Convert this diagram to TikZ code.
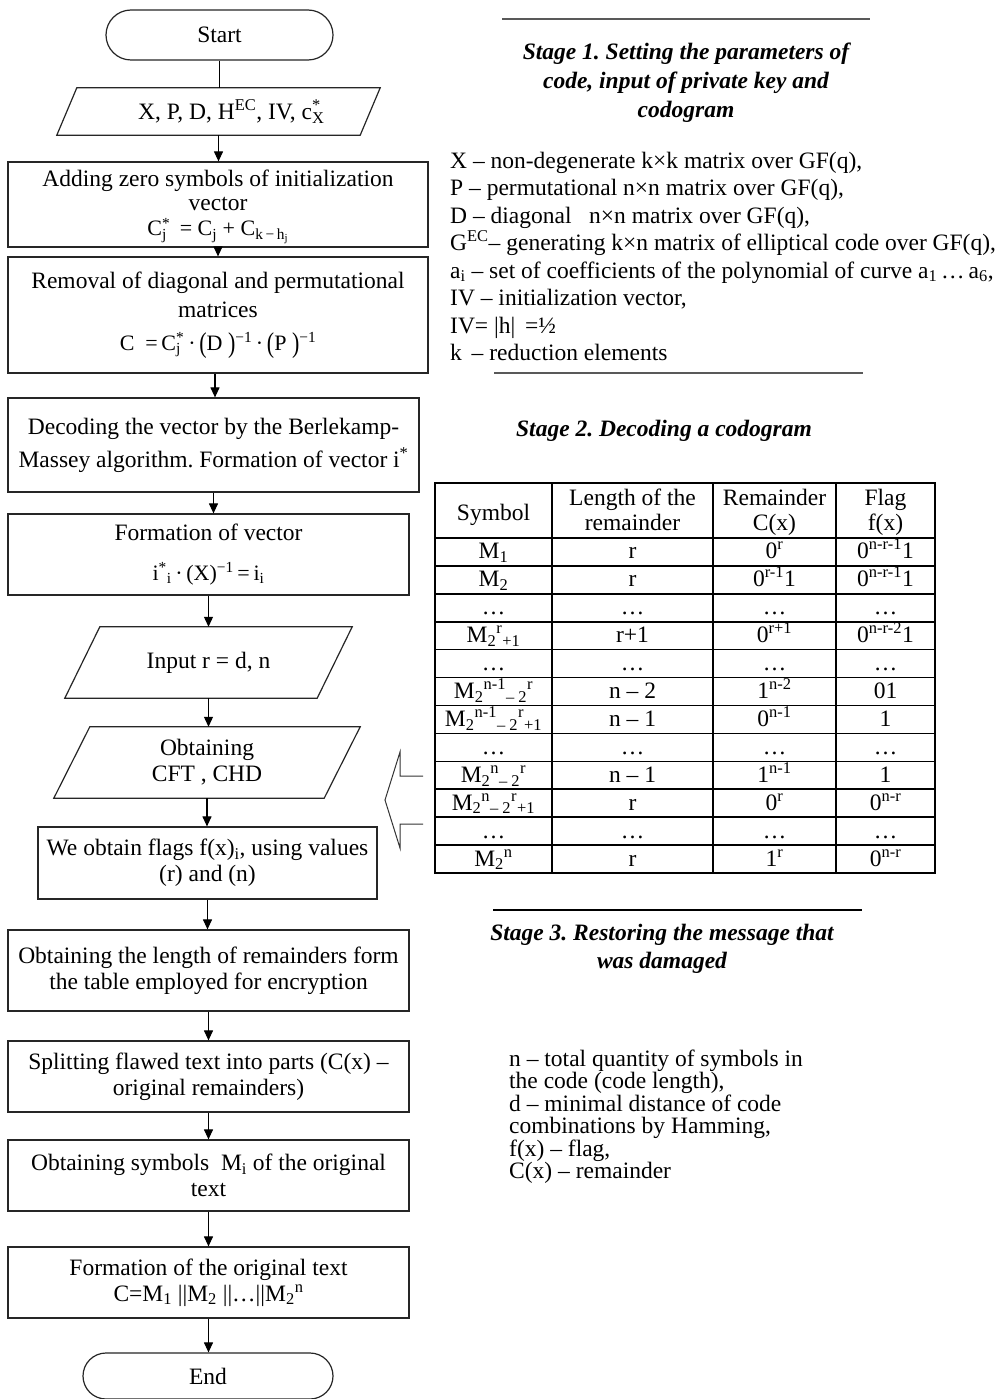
\documentclass[tikz,border=0pt]{standalone}
\usepackage{fontspec}
\usepackage{graphicx}
\setmainfont{Liberation Serif}
\usetikzlibrary{arrows.meta}

\newcommand\fs{\fontsize{23.5pt}{26pt}\selectfont\frenchspacing}
\newcommand\fsm{\fontsize{22pt}{24pt}\selectfont}
\newcommand\sub[1]{\textsubscript{#1}}
\newcommand\sups[1]{\textsuperscript{#1}}
\newcommand\subsup[2]{\rlap{\textsubscript{#1}}\textsuperscript{#2}}
\newcommand\tallp[1]{\raisebox{-2pt}{\scalebox{1}[1.3]{#1}}}
% parallelogram outline around an invisible node
\newcommand\parashape[2]{\draw[shapeline] ([xshift=#2]#1.north west) -- (#1.north east) -- ([xshift=-#2]#1.south east) -- (#1.south west) -- cycle;}
% one table cell, baseline 7pt above the bottom of its row
\newcommand\cellt[4]{\node[anchor=base] (#1) at (#2,{538+27.92*#3-7}) {#4};}

\begin{document}
\begin{tikzpicture}[x=1pt,y=-1pt,
  every node/.style={font=\fs, inner sep=0pt},
  shapeline/.style={draw=black!85, line width=1.2pt},
  box/.style={shapeline, align=center},
  term/.style={shapeline, align=center},
  para/.style={align=center},
  arr/.style={line width=1.1pt, -{Triangle[length=10pt,width=9pt]}},
  plain/.style={line width=1.1pt},
  tbl/.style={line width=1.6pt},
  rule/.style={line width=1.8pt, draw=black!65},
  ttl/.style={font=\fs\bfseries\itshape, anchor=base},
  leg/.style={anchor=base west}]

\useasboundingbox[fill=white] (0,0) rectangle (1000,1399);

% ---------------- flowchart ----------------
\node[term, rounded corners=25pt, minimum width=227pt, minimum height=50pt] (start) at (219.5,35) {Start};

\node[para, minimum width=323pt, minimum height=47pt] (p1) at (218.5,111.5)
  {\hspace*{26pt}X, P, D, H\sups{EC}, IV, c\subsup{X}{*}\hspace{4pt}};
\parashape{p1}{20pt}

\node[box, minimum width=420pt, minimum height=85pt] (add) at (218,204.5)
  {\rule{0pt}{22pt}Adding zero symbols of initialization\\[-2pt]vector\\[-1pt]
   {\fsm C\subsup{j}{*}\hspace{4pt} = C\sub{j} + C\sub{k\,−\,h\textsubscript{j}}}};

\node[box, minimum width=420pt, minimum height=116pt] (rem) at (218,315)
  {Removal of diagonal and permutational\\[3pt]matrices\\[7pt]
   {\fsm C\ \ =\,C\subsup{j}{*}\hspace{4pt}·\,\tallp{(}D\ \tallp{)}\sups{−1}\,·\,\tallp{(}P\ \tallp{)}\sups{−1}}};

\node[box, minimum width=411pt, minimum height=94pt] (dec) at (213.5,445)
  {Decoding the vector by the Berlekamp-\\[7pt]Massey algorithm. Formation of vector i\sups{*}};

\node[box, minimum width=401pt, minimum height=81pt] (form) at (208.5,554.5)
  {Formation of vector\\[14pt]
   {\fsm i\sups{*}\sub{i}\,·\,(X)\sups{−1}\,=\,i\sub{i}}};

\node[para, minimum width=287pt, minimum height=71pt] (inp) at (208.5,662.5) {Input r = d, n};
\parashape{inp}{35pt}

\node[para, minimum width=306pt, minimum height=71pt] (obt) at (207,762.5) {Obtaining\\CFT , CHD};
\parashape{obt}{36pt}

\node[box, minimum width=339pt, minimum height=72pt] (flags) at (207.5,863)
  {We obtain flags f(x)\sub{i}, using values\\(r) and (n)};

\node[box, minimum width=401pt, minimum height=81pt] (len) at (208.5,970.5)
  {Obtaining the length of remainders form\\the table employed for encryption};

\node[box, minimum width=401pt, minimum height=71pt] (split) at (208.5,1076.5)
  {Splitting flawed text into parts (C(x) –\\original remainders)};

\node[box, minimum width=401pt, minimum height=71pt] (sym) at (208.5,1175.5)
  {Obtaining symbols \ M\sub{i} of the original\\text};

\node[box, minimum width=401pt, minimum height=71pt] (orig) at (208.5,1282.5)
  {Formation of the original text\\C=M\sub{1} ||M\sub{2} ||…||M\sub{2}\sups{n}};

\node[term, rounded corners=23pt, minimum width=250pt, minimum height=46pt] (end) at (208,1376) {End};

% connectors
\draw[plain] (start.south) -- (start.south |- p1.north);
\draw[arr] (p1.south) -- (p1.south |- add.north);
\draw[arr] (add.south) -- (add.south |- rem.north);
\draw[arr] ([xshift=-3pt]rem.south) -- ([xshift=-3pt]rem.south |- dec.north);
\draw[arr] (dec.south) -- (dec.south |- form.north);
\draw[arr] (form.south) -- (form.south |- inp.north);
\draw[arr] (inp.south) -- (inp.south |- obt.north);
\draw[arr] (obt.south) -- (obt.south |- flags.north);
\draw[arr] (flags.south) -- (flags.south |- len.north);
\draw[arr] (len.south) -- (len.south |- split.north);
\draw[arr] (split.south) -- (split.south |- sym.north);
\draw[arr] (sym.south) -- (sym.south |- orig.north);
\draw[arr] (orig.south) -- (orig.south |- end.north);

% ---------------- stage 1 ----------------
\draw[rule] (502,19) -- (870,19);
\node[ttl] (s1a) at (686,60) {Stage 1. Setting the parameters of};
\node[ttl] (s1b) at (686,89) {code, input of private key and};
\node[ttl] (s1c) at (686,118) {codogram};

\node[leg] (l1) at (450,168.0) {X – non-degenerate k×k matrix over GF(q),};
\node[leg] (l2) at (450,195.5) {P – permutational n×n matrix over GF(q),};
\node[leg] (l3) at (450,223.0) {D – diagonal \ \ n×n matrix over GF(q),};
\node[leg] (l4) at (450,250.5) {G\sups{EC}– generating k×n matrix of elliptical code over GF(q),};
\node[leg] (l5) at (450,278.0) {a\sub{i} – set of coefficients of the polynomial of curve a\sub{1}\,…\,a\sub{6},};
\node[leg] (l6) at (450,305.5) {IV – initialization vector,};
\node[leg] (l7) at (450,333.0) {IV= |h| \,=½};
\node[leg] (l8) at (450,360.5) {k \,– reduction elements};
\draw[rule] (494,373) -- (863,373);

% ---------------- stage 2 ----------------
\node[ttl] (s2) at (664,436) {Stage 2. Decoding a codogram};

\draw[tbl] (435,483) rectangle (935,873);
\foreach \cx in {552,713,836} \draw[tbl] (\cx,483) -- (\cx,873);
\draw[tbl] (435,538) -- (935,538);
\foreach \k in {1,...,11} \draw[tbl] (435,{538+27.92*\k}) -- (935,{538+27.92*\k});

\node[anchor=base] (h1) at (493.5,520) {Symbol};
\node[anchor=base] (h2a) at (632.5,505) {Length of the};
\node[anchor=base] (h2b) at (632.5,530) {remainder};
\node[anchor=base] (h3a) at (774.5,505) {Remainder};
\node[anchor=base] (h3b) at (774.5,530) {C(x)};
\node[anchor=base] (h4a) at (885.5,505) {Flag};
\node[anchor=base] (h4b) at (885.5,530) {f(x)};

\cellt{a1}{493.5}{1}{M\sub{1}}
\cellt{b1}{632.5}{1}{r}
\cellt{c1}{774.5}{1}{0\sups{r}}
\cellt{d1}{885.5}{1}{0\sups{n-r-1}1}

\cellt{a2}{493.5}{2}{M\sub{2}}
\cellt{b2}{632.5}{2}{r}
\cellt{c2}{774.5}{2}{0\sups{r-1}1}
\cellt{d2}{885.5}{2}{0\sups{n-r-1}1}

\cellt{a3}{493.5}{3}{…}
\cellt{b3}{632.5}{3}{…}
\cellt{c3}{774.5}{3}{…}
\cellt{d3}{885.5}{3}{…}

\cellt{a4}{493.5}{4}{M\sub{2}\sups{r}\sub{+1}}
\cellt{b4}{632.5}{4}{r+1}
\cellt{c4}{774.5}{4}{0\sups{r+1}}
\cellt{d4}{885.5}{4}{0\sups{n-r-2}1}

\cellt{a5}{493.5}{5}{…}
\cellt{b5}{632.5}{5}{…}
\cellt{c5}{774.5}{5}{…}
\cellt{d5}{885.5}{5}{…}

\cellt{a6}{493.5}{6}{M\sub{2}\sups{n-1}\sub{– 2}\sups{r}}
\cellt{b6}{632.5}{6}{n – 2}
\cellt{c6}{774.5}{6}{1\sups{n-2}}
\cellt{d6}{885.5}{6}{01}

\cellt{a7}{493.5}{7}{M\sub{2}\sups{n-1}\sub{– 2}\sups{r}\sub{+1}}
\cellt{b7}{632.5}{7}{n – 1}
\cellt{c7}{774.5}{7}{0\sups{n-1}}
\cellt{d7}{885.5}{7}{1}

\cellt{a8}{493.5}{8}{…}
\cellt{b8}{632.5}{8}{…}
\cellt{c8}{774.5}{8}{…}
\cellt{d8}{885.5}{8}{…}

\cellt{a9}{493.5}{9}{M\sub{2}\sups{n}\sub{– 2}\sups{r}}
\cellt{b9}{632.5}{9}{n – 1}
\cellt{c9}{774.5}{9}{1\sups{n-1}}
\cellt{d9}{885.5}{9}{1}

\cellt{a10}{493.5}{10}{M\sub{2}\sups{n}\sub{– 2}\sups{r}\sub{+1}}
\cellt{b10}{632.5}{10}{r}
\cellt{c10}{774.5}{10}{0\sups{r}}
\cellt{d10}{885.5}{10}{0\sups{n-r}}

\cellt{a11}{493.5}{11}{…}
\cellt{b11}{632.5}{11}{…}
\cellt{c11}{774.5}{11}{…}
\cellt{d11}{885.5}{11}{…}

\cellt{a12}{493.5}{12}{M\sub{2}\sups{n}}
\cellt{b12}{632.5}{12}{r}
\cellt{c12}{774.5}{12}{1\sups{r}}
\cellt{d12}{885.5}{12}{0\sups{n-r}}

% hollow arrow pointing from the table back to the flowchart
\draw[line width=1pt, draw=black!80] (423,776) -- (400,776) -- (400,752) -- (385,800)
  -- (400,848) -- (400,824) -- (423,824);

% ---------------- stage 3 ----------------
\draw[line width=1.5pt] (493,910) -- (862,910);
\node[ttl] (s3a) at (662,940) {Stage 3. Restoring the message that};
\node[ttl] (s3b) at (662,968) {was damaged};

\node[leg] (m1) at (509,1066) {n – total quantity of symbols in};
\node[leg] (m2) at (509,1088.5) {the code (code length),};
\node[leg] (m3) at (509,1111) {d – minimal distance of code};
\node[leg] (m4) at (509,1133.5) {combinations by Hamming,};
\node[leg] (m5) at (509,1156) {f(x) – flag,};
\node[leg] (m6) at (509,1178.5) {C(x) – remainder};

\end{tikzpicture}
\end{document}
